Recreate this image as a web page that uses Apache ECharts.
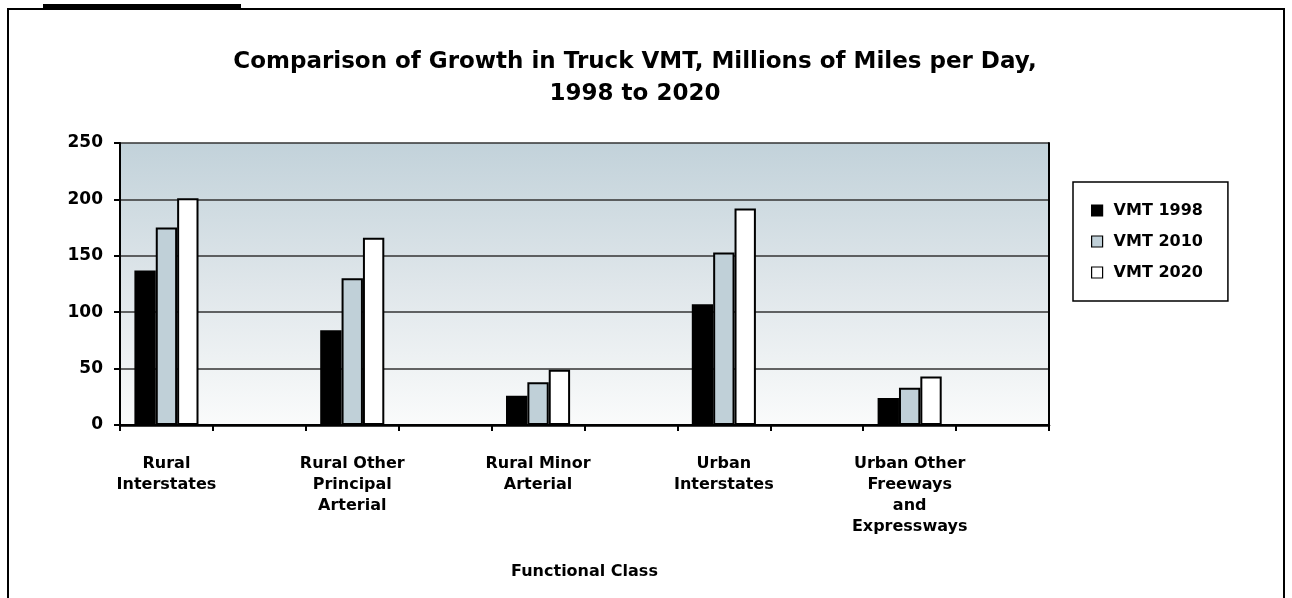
<!DOCTYPE html>
<html>
<head>
<meta charset="utf-8">
<script src="https://cdn.jsdelivr.net/npm/echarts@6/dist/echarts.min.js"></script>
<style>
html,body{margin:0;padding:0;background:#fff;}
#chart{width:1292px;height:598px;}
</style>
</head>
<body>
<div id="chart"></div>
<script>
// Data
const categories = [
  'Rural\nInterstates',
  'Rural Other\nPrincipal\nArterial',
  'Rural Minor\nArterial',
  'Urban\nInterstates',
  'Urban Other\nFreeways\nand\nExpressways'
];
const vmt1998 = [137, 84, 26, 107, 24];
const vmt2010 = [175, 130, 38, 153, 33];
const vmt2020 = [201, 166, 49, 192, 43];
const yTicks = [0, 50, 100, 150, 200, 250];

// The original chart places each group in a slot followed by an empty slot
const slotCats = [];
categories.forEach(c => { slotCats.push(c); slotCats.push(''); });
const toSlots = arr => {
  const out = [];
  arr.forEach(v => { out.push(v); out.push(null); });
  return out;
};

const FONT = 'DejaVu Sans';
const chart = echarts.init(document.getElementById('chart'), null, {renderer: 'canvas'});
const barStyle = (color) => ({color: color, borderColor: '#000', borderWidth: 2});

chart.setOption({
  animation: false,
  backgroundColor: '#fff',
  title: {
    text: 'Comparison of Growth in Truck VMT, Millions of Miles per Day,\n1998 to 2020',
    left: 630,
    textAlign: 'center',
    top: 41,
    textStyle: {fontFamily: FONT, fontWeight: 'bold', fontSize: 23, lineHeight: 32, color: '#000'}
  },
  legend: {
    orient: 'vertical',
    left: 1073,
    top: 182,
    padding: [20, 25, 20, 18],
    itemGap: 14,
    itemWidth: 11,
    itemHeight: 11,
    icon: 'rect',
    borderColor: '#000',
    borderWidth: 1.5,
    itemStyle: {borderWidth: 1.2, borderColor: '#000'},
    textStyle: {fontFamily: FONT, fontWeight: 'bold', fontSize: 16, lineHeight: 17, color: '#000', padding: [0, 0, 0, 6]},
    data: ['VMT 1998', 'VMT 2010', 'VMT 2020']
  },
  grid: {
    left: 120, right: 243, top: 143, bottom: 173,
    show: true,
    borderColor: 'transparent',
    borderWidth: 0,
    backgroundColor: {
      type: 'linear', x: 0, y: 0, x2: 0, y2: 1,
      colorStops: [
        {offset: 0, color: '#c2d2da'},
        {offset: 0.5, color: '#dfe6ea'},
        {offset: 1, color: '#fafbfb'}
      ]
    }
  },
  xAxis: [{
    type: 'category',
    data: slotCats,
    boundaryGap: true,
    axisLine: {show: true, lineStyle: {color: '#000', width: 2}},
    axisTick: {show: true, interval: 0, length: 6, lineStyle: {color: '#000', width: 2}},
    axisLabel: {interval: 0, margin: 28, fontFamily: FONT, fontSize: 16, lineHeight: 21, color: '#000', fontWeight: 'bold',
      formatter: v => v},
    name: 'Functional Class',
    nameLocation: 'middle',
    nameGap: 139,
    nameTextStyle: {fontFamily: FONT, fontSize: 16, color: '#000', fontWeight: 'bold'}
  }, {
    type: 'category',
    position: 'top',
    data: slotCats,
    axisLine: {show: true, lineStyle: {color: '#000', width: 2.5}},
    axisTick: {show: false},
    axisLabel: {show: false}
  }],
  yAxis: [{
    type: 'value',
    min: 0, max: 250, interval: 50,
    axisLine: {show: true, lineStyle: {color: '#000', width: 2}},
    axisTick: {show: true, length: 6, lineStyle: {color: '#000', width: 2}},
    axisLabel: {margin: 17, fontFamily: FONT, fontSize: 17, fontWeight: 'bold', color: '#000',
      formatter: v => yTicks.includes(v) ? String(v) : ''},
    splitLine: {show: true, lineStyle: {color: '#333', width: 1.5}}
  }, {
    type: 'value',
    position: 'right',
    min: 0, max: 250, interval: 50,
    axisLine: {show: true, lineStyle: {color: '#000', width: 2}},
    axisTick: {show: false},
    axisLabel: {show: false},
    splitLine: {show: false}
  }],
  series: [
    {name: 'VMT 1998', type: 'bar', data: toSlots(vmt1998), itemStyle: barStyle('#000000'), barGap: '0%', barCategoryGap: '31%'},
    {name: 'VMT 2010', type: 'bar', data: toSlots(vmt2010), itemStyle: barStyle('#c0d0d8'), barGap: '0%', barCategoryGap: '31%'},
    {name: 'VMT 2020', type: 'bar', data: toSlots(vmt2020), itemStyle: barStyle('#ffffff'), barGap: '0%', barCategoryGap: '31%'}
  ],
  graphic: [
    {type: 'rect', shape: {x: 8, y: 9, width: 1276, height: 620}, style: {fill: 'none', stroke: '#000', lineWidth: 2}, z: 100},
    {type: 'rect', shape: {x: 43, y: 4, width: 198, height: 4}, style: {fill: '#000'}, z: 100}
  ]
});
</script>
</body>
</html>
